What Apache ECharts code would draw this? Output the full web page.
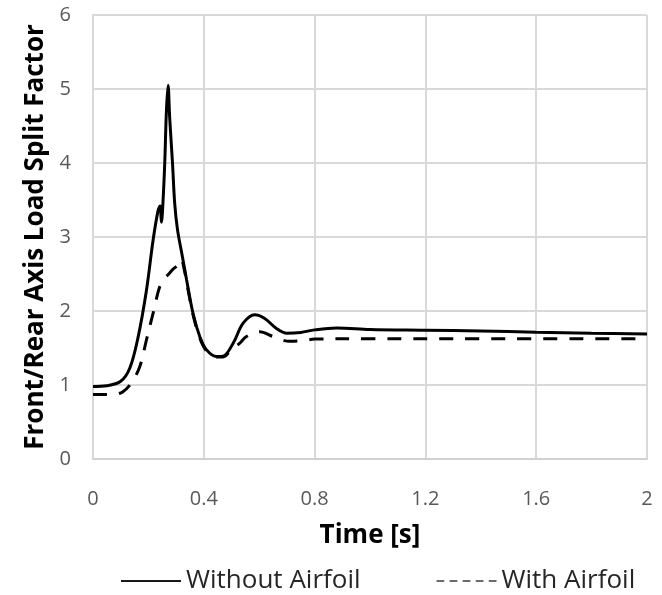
<!DOCTYPE html>
<html>
<head>
<meta charset="utf-8">
<script src="https://cdn.jsdelivr.net/npm/echarts@6/dist/echarts.min.js"></script>
<style>
  html, body { margin: 0; padding: 0; background: #ffffff; }
  #chart { width: 662px; height: 595px; }
</style>
</head>
<body>
<div id="chart"></div>
<script>
// Front/rear axle load split factor over time, with and without airfoil
const seriesNames = ['Without Airfoil', 'With Airfoil'];

const timeWithout = [0, 0.05, 0.1, 0.133, 0.163, 0.193, 0.217, 0.235, 0.242, 0.247, 0.253, 0.259, 0.265, 0.271, 0.277, 0.287, 0.295, 0.305, 0.323, 0.338, 0.361, 0.386, 0.41, 0.446, 0.47, 0.506, 0.542, 0.584, 0.62, 0.66, 0.7, 0.75, 0.8, 0.88, 1.0, 1.2, 1.4, 1.6, 1.8, 2.0];
const valuesWithout = [0.98, 0.99, 1.05, 1.23, 1.65, 2.28, 2.96, 3.36, 3.42, 3.2, 3.5, 4.0, 4.7, 5.05, 4.6, 4.0, 3.45, 3.1, 2.73, 2.42, 1.97, 1.65, 1.475, 1.385, 1.39, 1.565, 1.835, 1.95, 1.9, 1.77, 1.7, 1.71, 1.745, 1.77, 1.75, 1.74, 1.73, 1.714, 1.7, 1.69];

const timeWith = [0, 0.05, 0.08, 0.108, 0.139, 0.169, 0.193, 0.217, 0.241, 0.26, 0.271, 0.29, 0.307, 0.318, 0.33, 0.345, 0.361, 0.386, 0.41, 0.446, 0.47, 0.5, 0.53, 0.554, 0.602, 0.65, 0.71, 0.76, 0.8, 1.0, 1.4, 2.0];
const valuesWith = [0.87, 0.87, 0.875, 0.91, 1.03, 1.25, 1.61, 1.97, 2.33, 2.45, 2.49, 2.57, 2.62, 2.7, 2.55, 2.25, 1.95, 1.63, 1.46, 1.38, 1.38, 1.48, 1.565, 1.655, 1.72, 1.655, 1.59, 1.6, 1.62, 1.625, 1.625, 1.625];

const xTickLabels = ['0', '0.4', '0.8', '1.2', '1.6', '2'];
const yTickLabels = ['0', '1', '2', '3', '4', '5', '6'];

const pairs = (xs, ys) => xs.map((x, i) => [x, ys[i]]);

// legend glyphs: a plain bar and five short dashes
const SOLID_ICON = 'path://M0,0H62V2H0Z';
const DASHED_ICON = 'path://M0,0h8v2h-8z M13.5,0h8v2h-8z M27,0h8v2h-8z M40.5,0h8v2h-8z M54,0h8v2h-8z';

const FONT = 'Open Sans';
const chart = echarts.init(document.getElementById('chart'), null, { renderer: 'canvas' });

chart.setOption({
  backgroundColor: '#ffffff',
  animation: false,
  grid: { left: 93, right: 15, top: 15, bottom: 136, containLabel: false },
  xAxis: {
    type: 'value',
    min: 0, max: 2, interval: 0.4,
    name: 'Time [s]',
    nameLocation: 'middle',
    nameGap: 64,
    nameTextStyle: { fontFamily: FONT, fontWeight: 'bold', fontSize: 26, color: '#000000' },
    axisLine: { show: true, lineStyle: { color: '#d0d0d0', width: 2 } },
    axisTick: { show: false },
    axisLabel: {
      margin: 30,
      fontFamily: FONT, fontSize: 20, color: '#595959',
      formatter: v => xTickLabels[Math.round(v / 0.4)]
    },
    splitLine: { show: true, lineStyle: { color: '#d9d9d9', width: 2 } }
  },
  yAxis: {
    type: 'value',
    min: 0, max: 6, interval: 1,
    name: 'Front/Rear Axis Load Split Factor',
    nameLocation: 'middle',
    nameGap: 43,
    nameTextStyle: { fontFamily: FONT, fontWeight: 'bold', fontSize: 26, color: '#000000' },
    axisLine: { show: true, lineStyle: { color: '#d9d9d9', width: 2 } },
    axisTick: { show: false },
    axisLabel: {
      margin: 22,
      fontFamily: FONT, fontSize: 20, color: '#595959',
      formatter: v => yTickLabels[Math.round(v)]
    },
    splitLine: { show: true, lineStyle: { color: '#d9d9d9', width: 2 } }
  },
  legend: {
    left: 116,
    top: 563,
    width: 546,
    itemWidth: 60,
    itemHeight: 2,
    itemGap: 76,
    textStyle: { fontFamily: FONT, fontSize: 26, color: '#262626' },
    data: [
      { name: seriesNames[0], icon: SOLID_ICON, itemStyle: { color: '#1a1a1a' } },
      { name: seriesNames[1], icon: DASHED_ICON, itemStyle: { color: '#6b6b6b' } }
    ]
  },
  series: [
    {
      name: seriesNames[0],
      type: 'line',
      data: pairs(timeWithout, valuesWithout),
      showSymbol: false,
      symbol: 'none',
      smooth: 0.35,
      itemStyle: { color: '#000000' },
      lineStyle: { color: '#000000', width: 3 }
    },
    {
      name: seriesNames[1],
      type: 'line',
      data: pairs(timeWith, valuesWith),
      showSymbol: false,
      symbol: 'none',
      smooth: 0.35,
      itemStyle: { color: '#000000' },
      lineStyle: { color: '#000000', width: 3, type: [14, 12] }
    }
  ]
});
</script>
</body>
</html>
